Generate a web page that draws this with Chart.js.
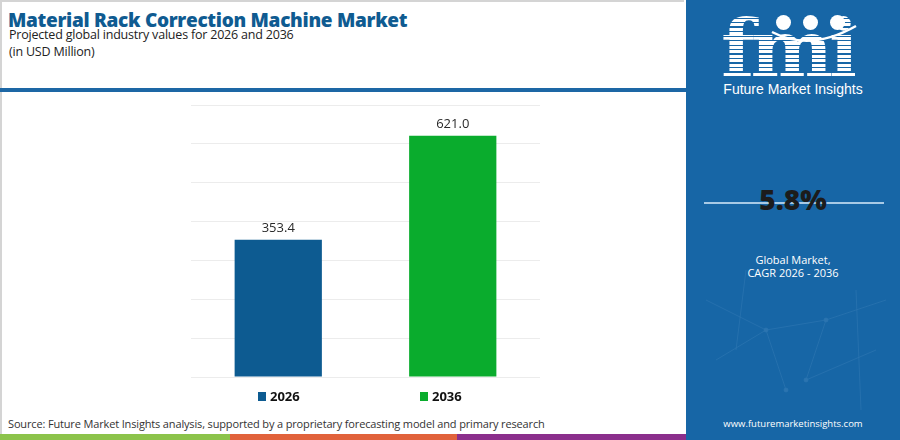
<!DOCTYPE html>
<html>
<head>
<meta charset="utf-8">
<script src="https://cdn.jsdelivr.net/npm/chart.js@4.4.1/dist/chart.umd.min.js"></script>
<style>
  html,body{margin:0;padding:0;width:900px;height:440px;overflow:hidden;background:#fff;font-family:"Open Sans",Inter,sans-serif;}
  #left{position:absolute;left:0;top:0;width:684px;height:434px;border-top:2px solid #d4d4d4;border-left:2px solid #d4d4d4;box-sizing:border-box;}
  #title{position:absolute;left:8px;top:7px;font-family:"Open Sans",sans-serif;font-weight:800;font-size:19px;color:#0f5b91;letter-spacing:-0.3px;white-space:nowrap;}
  #sub1{position:absolute;left:9px;top:26px;font-size:12.5px;color:#222;white-space:nowrap;letter-spacing:-0.2px;}
  #sub2{position:absolute;left:9px;top:43px;font-size:12.5px;color:#222;white-space:nowrap;letter-spacing:-0.2px;}
  #sep{position:absolute;left:0;top:88px;width:686px;height:4px;background:#1d67a5;}
  #src{position:absolute;left:8px;top:416px;font-size:11px;color:#333;white-space:nowrap;letter-spacing:-0.15px;}
  .bb{position:absolute;top:434px;height:6px;}
  #right{position:absolute;left:686px;top:0;width:214px;height:440px;background:#1766a6;overflow:hidden;}
  #logo{position:absolute;left:35px;top:10px;font-family:"DejaVu Serif",serif;font-weight:bold;font-size:78px;line-height:78px;color:#fff;letter-spacing:-4px;
    background:repeating-linear-gradient(#fff 0 3px,#1766a6 3px 4.5px);-webkit-background-clip:text;background-clip:text;-webkit-text-fill-color:transparent;}
  .globe{position:absolute;width:15px;height:15px;border-radius:50%;background:#fff;}
  #fmitext{position:absolute;left:0;width:214px;top:81px;text-align:center;font-family:"Liberation Sans Narrow","Liberation Sans",sans-serif;font-size:14px;color:#fff;}
  #cagr{position:absolute;left:0;width:214px;top:180px;text-align:center;font-family:"Open Sans",sans-serif;font-weight:800;font-size:28px;color:#1c1c1c;}
  #cline{position:absolute;left:18px;top:202px;width:180px;height:2px;background:#a8cae6;}
  #gm{position:absolute;left:0;width:214px;top:253px;text-align:center;font-size:11px;color:#fff;line-height:13px;}
  #www{position:absolute;left:0;width:214px;top:417px;text-align:center;font-size:9.5px;color:#fff;}
  #chartWrap{position:absolute;left:0;top:0;width:686px;height:440px;}
</style>
</head>
<body>
<div id="left"></div>
<div id="title">Material Rack Correction Machine Market</div>
<div id="sub1">Projected global industry values for 2026 and 2036</div>
<div id="sub2">(in USD Million)</div>
<div id="sep"></div>
<div id="src">Source: Future Market Insights analysis, supported by a proprietary forecasting model and primary research</div>
<div class="bb" style="left:0;width:230px;background:#8cc34b;"></div>
<div class="bb" style="left:230px;width:227px;background:#e1623b;"></div>
<div class="bb" style="left:457px;width:229px;background:#8b2f8c;"></div>
<div id="right">
  <svg width="214" height="440" style="position:absolute;left:0;top:0;opacity:0.15">
    <g stroke="#9cc6ea" stroke-width="0.7" fill="#9cc6ea">
      <line x1="20" y1="300" x2="80" y2="330"/><line x1="80" y1="330" x2="140" y2="320"/><line x1="140" y1="320" x2="200" y2="300"/>
      <line x1="30" y1="360" x2="80" y2="330"/><line x1="80" y1="330" x2="100" y2="390"/><line x1="140" y1="320" x2="120" y2="380"/>
      <line x1="170" y1="290" x2="175" y2="410"/><line x1="60" y1="270" x2="50" y2="350"/><line x1="120" y1="380" x2="190" y2="350"/>
      <circle cx="80" cy="330" r="2"/><circle cx="140" cy="320" r="2"/><circle cx="100" cy="390" r="2"/><circle cx="120" cy="380" r="2"/>
    </g>
  </svg>
  <div id="logo">fmi</div>
  <div class="globe" style="left:90px;top:15px;"></div>
  <div class="globe" style="left:117px;top:15px;"></div>
  <div class="globe" style="left:144px;top:15px;"></div>
  <svg width="214" height="60" style="position:absolute;left:0;top:0"><path d="M86 32 Q124 52 170 26" stroke="#fff" stroke-width="2.5" fill="none"/></svg>
  <div id="fmitext">Future Market Insights</div>
  <div id="cline"></div>
  <div id="cagr">5.8%</div>
  <div id="gm">Global Market,<br>CAGR 2026 - 2036</div>
  <div id="www">www.futuremarketinsights.com</div>
</div>
<div id="chartWrap"><canvas id="c" width="686" height="440"></canvas></div>
<script>
const categories = ["2026", "2036"];
const marketValues = [353.4, 621.0];
const barColors = ["#0d5b91", "#0aac2d"];
const yTicks = [0, 100, 200, 300, 400, 500, 600, 700];

const labelPlugin = {
  id: 'valueLabels',
  afterDatasetsDraw(chart) {
    const ctx = chart.ctx;
    const meta = chart.getDatasetMeta(0);
    ctx.save();
    ctx.font = '13px "Open Sans", sans-serif';
    ctx.fillStyle = '#2a2a2a';
    ctx.textAlign = 'center';
    ctx.textBaseline = 'alphabetic';
    meta.data.forEach((bar, i) => {
      ctx.fillText(marketValues[i].toFixed(1), bar.x, bar.y - 8);
    });
    ctx.restore();
  }
};
const legendPlugin = {
  id: 'spacedLegend',
  afterDraw(chart) {
    const ctx = chart.ctx;
    const y = 396;
    const starts = [258, 420];
    ctx.save();
    ctx.font = 'bold 13px "Open Sans", sans-serif';
    ctx.textBaseline = 'middle';
    ctx.textAlign = 'left';
    categories.forEach((c, i) => {
      ctx.fillStyle = barColors[i];
      ctx.fillRect(starts[i], y - 4, 8, 9);
      ctx.fillStyle = '#111';
      ctx.fillText(c, starts[i] + 12, y + 1);
    });
    ctx.restore();
  }
};

new Chart(document.getElementById('c'), {
  type: 'bar',
  data: {
    labels: categories,
    datasets: [{
      data: marketValues,
      backgroundColor: barColors,
      borderWidth: 0,
      barPercentage: 0.5,
      categoryPercentage: 1.0
    }]
  },
  options: {
    responsive: false,
    animation: false,
    devicePixelRatio: 1,
    layout: { padding: { left: 191, right: 146, top: 105, bottom: 63 } },
    plugins: { legend: { display: false }, tooltip: { enabled: false } },
    scales: {
      x: { display: false },
      y: {
        min: yTicks[0], max: yTicks[yTicks.length - 1],
        afterBuildTicks(scale) { scale.ticks = yTicks.map(v => ({ value: v })); },
        ticks: { display: false },
        border: { display: false },
        grid: { color: '#ececec', lineWidth: 1, drawTicks: false }
      }
    }
  },
  plugins: [labelPlugin, legendPlugin]
});
</script>
</body>
</html>
